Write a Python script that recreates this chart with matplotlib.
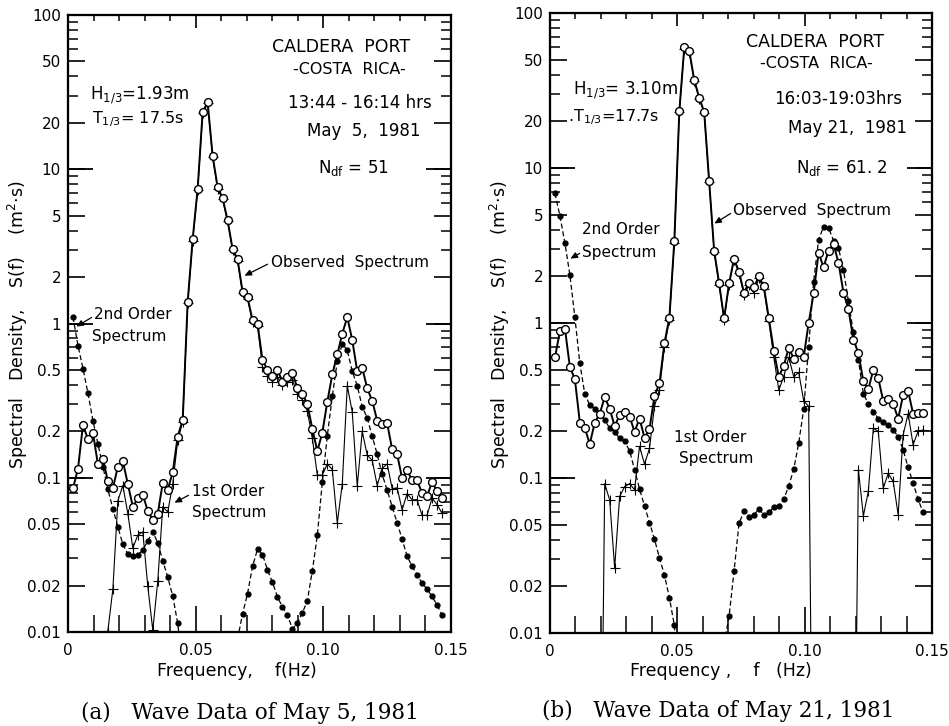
import numpy as np
import matplotlib
matplotlib.use("Agg")
import matplotlib.pyplot as plt
from matplotlib.ticker import FixedLocator, FixedFormatter, NullFormatter, NullLocator

plt.rcParams['font.family'] = ['DejaVu Sans']
plt.rcParams['mathtext.fontset'] = 'dejavusans'

# ---------------- data ----------------
BIN_HZ = 1 / 512          # frequency resolution of the spectra (Hz)
bins = list(range(1, 76))  # spectral bin numbers 1..75

# Panel (a): May 5, 1981
a_observed = [0.0855, 0.114, 0.22, 0.178, 0.196, 0.122, 0.132, 0.095, 0.0855, 0.118,
              0.128, 0.091, 0.065, 0.0736, 0.0774, 0.061, 0.0533, 0.0585, 0.0925, 0.0834,
              0.109, 0.185, 0.237, 1.38, 3.53, 7.48, 23.5, 27.2, 12.2, 7.67,
              6.5, 4.67, 3.05, 2.61, 1.61, 1.48, 1.05, 1.0, 0.58, 0.5,
              0.46, 0.5, 0.42, 0.45, 0.48, 0.38, 0.35, 0.3, 0.207, 0.149,
              0.196, 0.311, 0.468, 0.63, 0.86, 1.10, 0.78, 0.49, 0.515, 0.38,
              0.315, 0.235, 0.222, 0.225, 0.153, 0.142, 0.099, 0.112, 0.0965, 0.0965,
              0.0793, 0.076, 0.094, 0.082, 0.074]
a_first = [None, None, None, None, None, None, None, 0.0102, 0.019, 0.071,
           0.089, 0.0585, 0.035, 0.0425, 0.0446, 0.0198, 0.0103, 0.0213, 0.065, 0.06,
           0.091, 0.175, 0.23, 1.35, 3.45, 7.3, 23.0, 26.7, 12.0, 7.5,
           6.4, 4.6, 3.0, 2.55, 1.58, 1.45, 1.02, 0.97, 0.52, 0.46,
           0.42, 0.45, 0.40, 0.42, 0.43, 0.35, 0.32, 0.27, 0.18, 0.104,
           0.104, 0.123, 0.113, 0.051, 0.091, 0.395, 0.267, 0.088, 0.2, 0.14,
           0.13, 0.089, 0.115, 0.123, 0.085, 0.086, 0.062, 0.079, 0.072, 0.072,
           0.057, 0.057, 0.074, 0.067, 0.059]
a_second = [1.1, 0.72, 0.51, 0.354, 0.235, 0.166, 0.118, 0.084, 0.063, 0.048,
            0.037, 0.032, 0.031, 0.0316, 0.034, 0.039, 0.0446, 0.0378, 0.029, 0.0227,
            0.0171, 0.0114, 0.006, None, None, None, None, None, None, None,
            None, None, None, 0.009, 0.0131, 0.0177, 0.0266, 0.0344, 0.0318, 0.0253,
            0.021, 0.0169, 0.0145, 0.0129, 0.0105, 0.0114, 0.0133, 0.016, 0.025, 0.0425,
            0.094, 0.187, 0.338, 0.57, 0.74, 0.67, 0.49, 0.395, 0.288, 0.245,
            0.186, 0.142, 0.105, 0.083, 0.065, 0.051, 0.04, 0.031, 0.0266, 0.0235,
            0.0207, 0.019, 0.017, 0.015, 0.0129]

# Panel (b): May 21, 1981
b_observed = [0.6, 0.89, 0.92, 0.52, 0.435, 0.228, 0.209, 0.166, 0.228, 0.26,
              0.332, 0.28, 0.216, 0.255, 0.265, 0.249, 0.199, 0.242, 0.182, 0.206,
              0.338, 0.408, 0.74, 1.08, 3.4, 23.3, 60.0, 57.0, 37.0, 28.4,
              23.0, 8.2, 2.93, 1.8, 1.07, 1.8, 2.6, 2.14, 1.57, 1.82,
              1.7, 2.0, 1.72, 1.07, 0.66, 0.45, 0.53, 0.69, 0.59, 0.65,
              0.6, 1.0, 1.55, 2.84, 2.29, 2.93, 3.23, 2.45, 1.57, 1.23,
              0.78, 0.64, 0.42, 0.373, 0.5, 0.44, 0.314, 0.322, 0.3, 0.242,
              0.343, 0.364, 0.26, 0.264, 0.264]
b_first = [None, None, None, None, None, None, None, None, None, 0.0001,
           0.092, 0.072, 0.0263, 0.076, 0.088, 0.092, 0.084, 0.16, 0.123, 0.155,
           0.29, 0.37, 0.70, 1.05, 3.3, 23.0, 59.0, 56.0, 36.5, 28.0,
           22.6, 8.1, 2.88, 1.77, 1.05, 1.77, 2.55, 2.1, 1.52, 1.75,
           1.55, 1.95, 1.65, 1.03, 0.6, 0.37, 0.45, 0.6, 0.45, 0.48,
           0.315, 0.29, 0.0001, None, None, None, None, None, None, None,
           0.0001, 0.113, 0.057, 0.082, 0.209, 0.2, 0.086, 0.107, 0.095, 0.058,
           0.19, 0.26, 0.164, 0.2, 0.204]
b_second = [6.87, 4.9, 3.27, 2.04, 1.09, 0.55, 0.347, 0.296, 0.28, 0.259,
            0.237, 0.209, 0.199, 0.18, 0.172, 0.15, 0.113, 0.085, 0.066, 0.0516,
            0.0403, 0.0306, 0.0237, 0.0169, 0.0112, 0.004, None, None, None, None,
            None, None, None, None, 0.0085, 0.0128, 0.025, 0.051, 0.061, 0.056,
            0.058, 0.063, 0.058, 0.06, 0.065, 0.066, 0.073, 0.089, 0.114, 0.168,
            0.277, 0.7, 1.85, 3.45, 4.18, 4.12, 3.4, 3.05, 2.2, 1.38,
            0.87, 0.58, 0.35, 0.3, 0.268, 0.242, 0.231, 0.22, 0.204, 0.185,
            0.152, 0.117, 0.093, 0.073, 0.06]

y_tick_values = [0.01, 0.02, 0.05, 0.1, 0.2, 0.5, 1, 2, 5, 10, 20, 50, 100]
y_tick_labels = ['0.01', '0.02', '0.05', '0.1', '0.2', '0.5', '1', '2', '5', '10', '20', '50', '100']
x_tick_values = [0, 0.05, 0.10, 0.15]
x_tick_labels = ['0', '0.05', '0.10', '0.15']
x_minor_values = [0.01, 0.02, 0.03, 0.04, 0.06, 0.07, 0.08, 0.09, 0.11, 0.12, 0.13, 0.14]

# ---------------- figure ----------------
W, H = 949, 726
fig = plt.figure(figsize=(W / 100, H / 100), dpi=100)


def px_axes(l, t, r, b):
    return fig.add_axes([l / W, 1 - b / H, (r - l) / W, (b - t) / H])


def T(x, y, s, **kw):
    kw.setdefault('ha', 'left')
    kw.setdefault('va', 'center')
    kw.setdefault('fontsize', 11)
    fig.text(x / W, 1 - y / H, s, **kw)


def arrow(x1, y1, x2, y2):
    fig.add_artist(matplotlib.patches.FancyArrowPatch(
        (x1 / W, 1 - y1 / H), (x2 / W, 1 - y2 / H), transform=fig.transFigure,
        arrowstyle='-|>,head_length=4,head_width=1.8', lw=0.9, color='k', mutation_scale=1))


def panel(ax, obs, first, second):
    f = np.array(bins, dtype=float) * BIN_HZ
    ax.plot(f, np.array(second, dtype=float), ls=(0, (4, 2.2)), color='k', lw=0.9,
            marker='o', ms=3.5, mfc='k', mec='k', zorder=2)
    ax.plot(f, np.array(first, dtype=float), ls='-', color='k', lw=0.8,
            marker='+', ms=6.5, mew=0.8, zorder=2.5)
    ax.plot(f, np.array(obs, dtype=float), ls='-', color='k', lw=1.4,
            marker='o', ms=5.6, mfc='white', mec='k', mew=1.0, zorder=3)
    ax.set_yscale('log')
    ax.set_xlim(0, 0.15)
    ax.set_ylim(0.01, 100)

    # extra long decade ticks (both sides)
    tw = ax.twinx()
    tw.set_yscale('log')
    tw.set_ylim(0.01, 100)
    tw.yaxis.set_major_locator(FixedLocator([0.1, 1, 10]))
    tw.yaxis.set_minor_locator(NullLocator())
    tw.tick_params(axis='y', which='major', direction='in', length=18, width=1.3,
                   left=True, right=True, labelleft=False, labelright=False)
    # short top ticks
    ty = ax.twiny()
    ty.set_xlim(0, 0.15)
    ty.xaxis.set_major_locator(FixedLocator([0.05, 0.10]))
    ty.xaxis.set_minor_locator(FixedLocator(x_minor_values))
    ty.xaxis.set_minor_formatter(NullFormatter())
    ty.tick_params(axis='x', which='major', direction='in', length=9, width=1.2,
                   top=True, bottom=False, labeltop=False, labelbottom=False)
    ty.tick_params(axis='x', which='minor', direction='in', length=4.5, width=1.1,
                   top=True, bottom=False)

    ax.yaxis.set_major_locator(FixedLocator(y_tick_values))
    ax.yaxis.set_major_formatter(FixedFormatter(y_tick_labels))
    minors = [m * d for d in (0.01, 0.1, 1, 10) for m in (3, 4, 6, 7, 8, 9)]
    ax.yaxis.set_minor_locator(FixedLocator(minors))
    ax.yaxis.set_minor_formatter(NullFormatter())
    ax.tick_params(axis='y', which='major', direction='in', length=12, width=1.2,
                   left=True, right=True, labelsize=11, pad=5)
    ax.tick_params(axis='y', which='minor', direction='in', length=7, width=1.1,
                   left=True, right=True)
    ax.xaxis.set_major_locator(FixedLocator(x_tick_values))
    ax.xaxis.set_major_formatter(FixedFormatter(x_tick_labels))
    ax.xaxis.set_minor_locator(FixedLocator(x_minor_values))
    ax.xaxis.set_minor_formatter(NullFormatter())
    ax.tick_params(axis='x', which='major', direction='in', length=19, width=1.2,
                   top=False, bottom=True, labelsize=11, pad=8)
    ax.tick_params(axis='x', which='minor', direction='in', length=12, width=1.1,
                   top=False, bottom=True)
    for a in (ax, tw, ty):
        for s in a.spines.values():
            s.set_linewidth(1.5)


axA = px_axes(68, 15, 451, 632)
panel(axA, a_observed, a_first, a_second)
axB = px_axes(550, 13, 932, 633)
panel(axB, b_observed, b_first, b_second)

SERIF = ['DejaVu Serif']

# ---------------- texts: panel (a) ----------------
T(341, 47, 'CALDERA  PORT', ha='center', fontsize=12.5)
T(349, 70, '-COSTA  RICA-', ha='center', fontsize=11.5)
T(90, 95, r'H$_{1/3}$=1.93m', fontsize=12)
T(92, 119, r'T$_{1/3}$= 17.5s', fontsize=11.5)
T(360, 103, '13:44 - 16:14 hrs', ha='center', fontsize=12)
T(364, 131, 'May  5,  1981', ha='center', fontsize=12)
T(353, 168, r'N$_{\mathrm{df}}$ = 51', ha='center', fontsize=12)
T(271, 262, 'Observed  Spectrum', fontsize=11)
arrow(270, 263, 242, 277)
T(94, 314, '2nd Order', fontsize=11)
T(92, 337, 'Spectrum', fontsize=11)
arrow(94, 316, 74, 328)
T(192, 492, '1st Order', fontsize=11)
T(192, 513, 'Spectrum', fontsize=11)
arrow(191, 494, 172, 504)
T(18, 325, 'Spectral   Density,    S(f)    (m$^2$·s)', rotation=90, ha='center', fontsize=12.5)
T(237, 671, 'Frequency,    f(Hz)', ha='center', fontsize=12.5)
T(250, 713, '(a)   Wave Data of May 5, 1981', ha='center', fontsize=15.5, family=SERIF)

# ---------------- texts: panel (b) ----------------
T(815, 42, 'CALDERA  PORT', ha='center', fontsize=12.5)
T(816, 63, '-COSTA  RICA-', ha='center', fontsize=11.5)
T(573, 90, r'H$_{1/3}$= 3.10m', fontsize=12)
T(568, 117, r'.T$_{1/3}$=17.7s', fontsize=11.5)
T(838, 99, '16:03-19:03hrs', ha='center', fontsize=12)
T(847, 128, 'May 21,  1981', ha='center', fontsize=12)
T(842, 168, r'N$_{\mathrm{df}}$ = 61. 2', ha='center', fontsize=12)
T(733, 210, 'Observed  Spectrum', fontsize=11)
arrow(733, 212, 712, 225)
T(582, 230, '2nd Order', fontsize=11)
T(582, 253, 'Spectrum', fontsize=11)
arrow(582, 252, 568, 260)
T(710, 437, '1st Order', ha='center', fontsize=11)
T(716, 459, 'Spectrum', ha='center', fontsize=11)
T(500, 325, 'Spectral   Density,    S(f)    (m$^2$·s)', rotation=90, ha='center', fontsize=12.5)
T(721, 671, 'Frequency ,    f   (Hz)', ha='center', fontsize=12.5)
T(718, 711, '(b)   Wave Data of May 21, 1981', ha='center', fontsize=15.5, family=SERIF)

fig.savefig('out.png', dpi=100)
